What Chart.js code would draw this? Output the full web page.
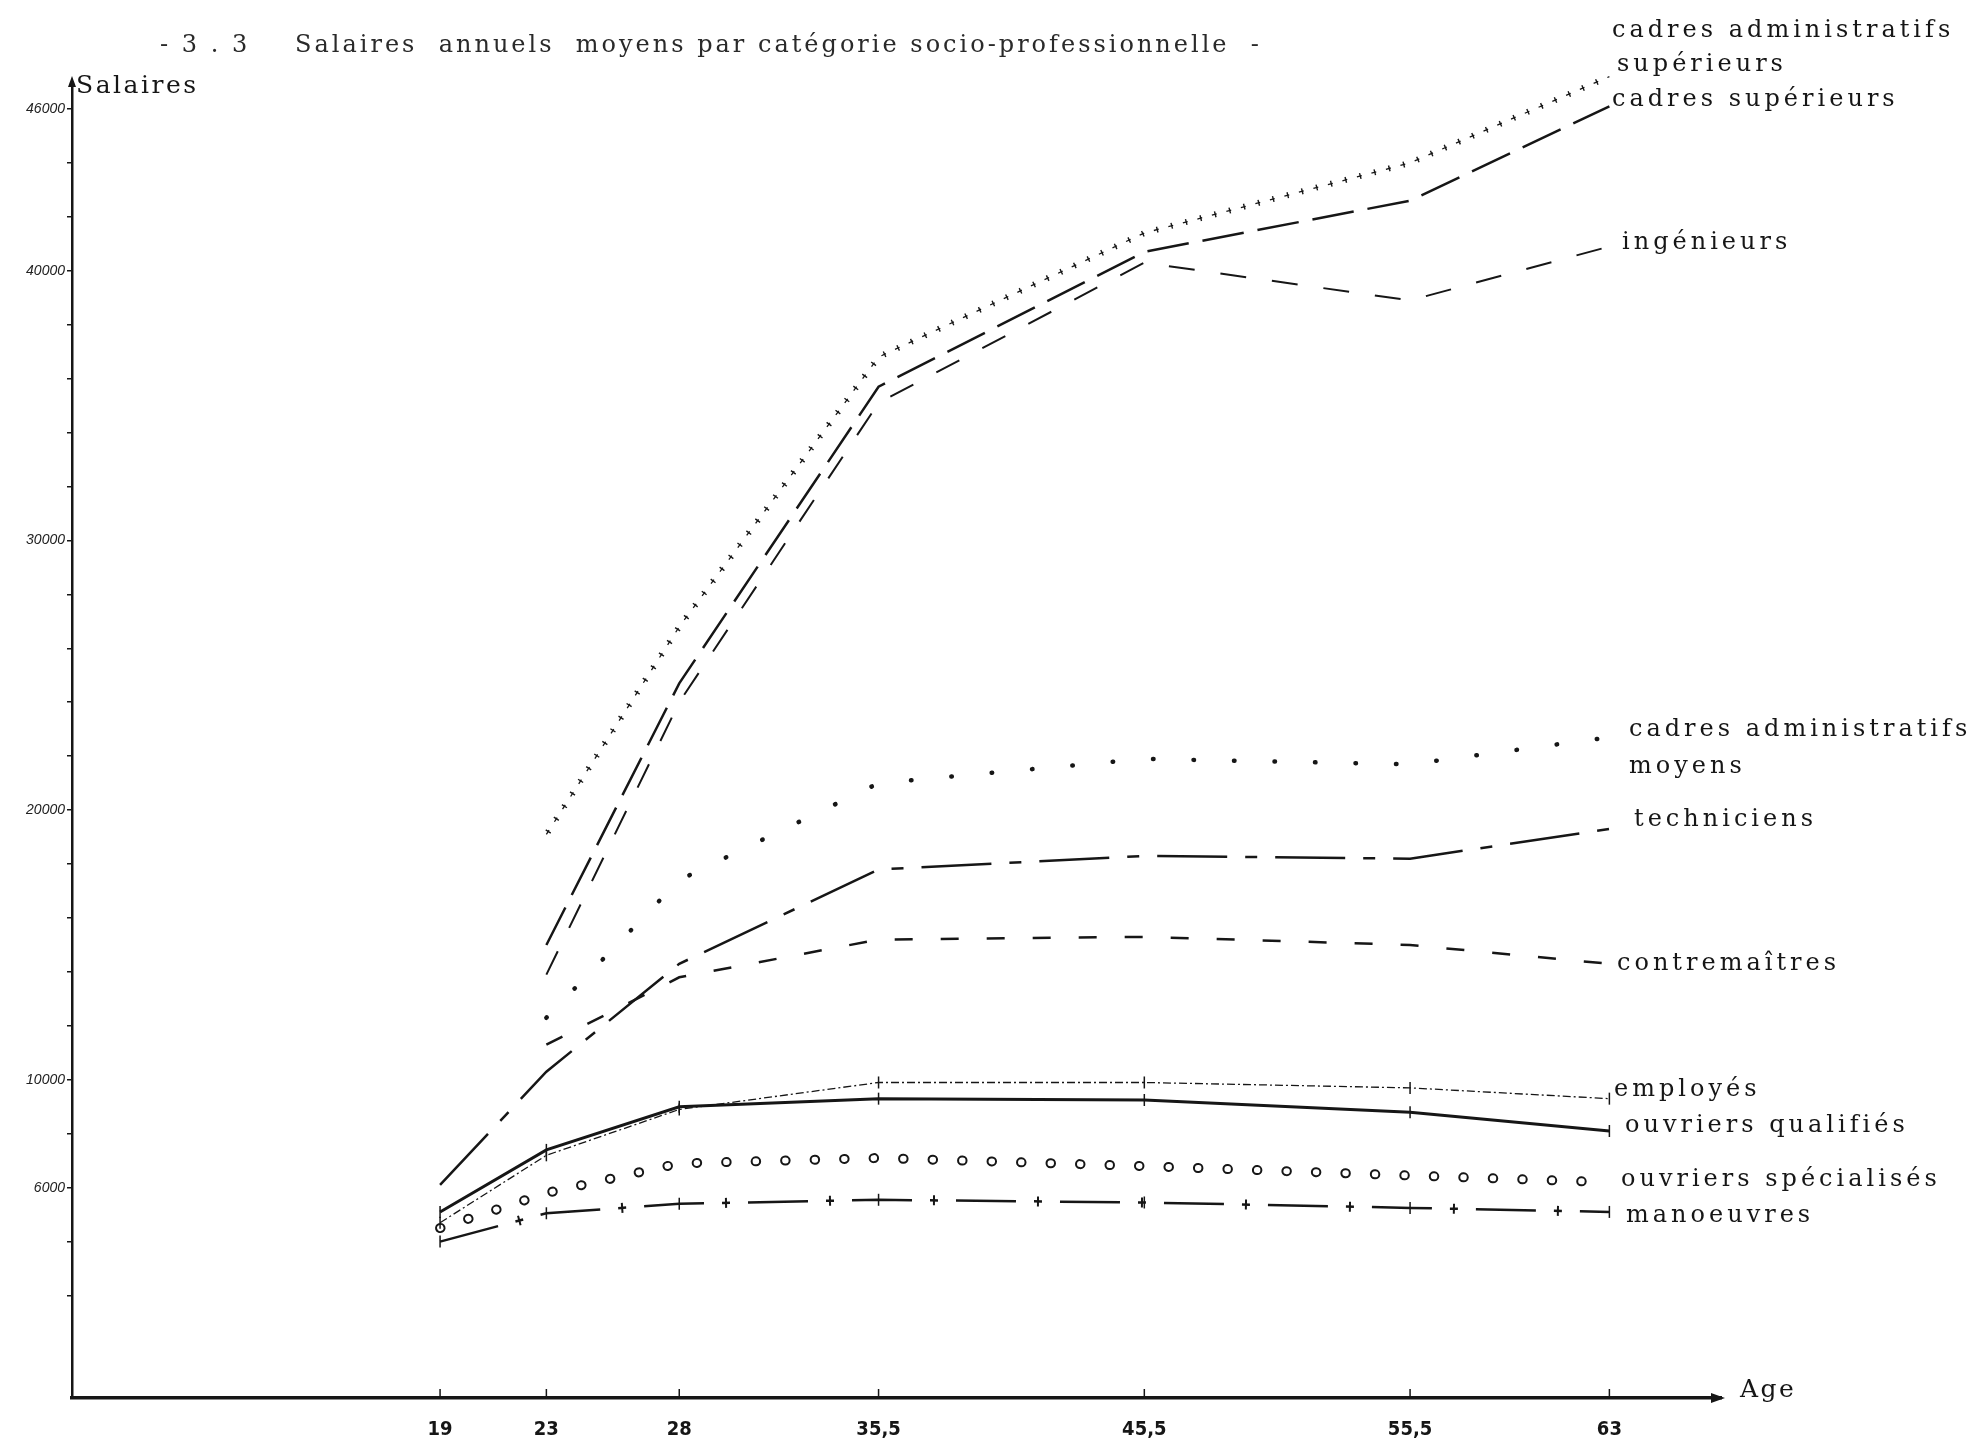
<!DOCTYPE html>
<html lang="fr">
<head>
<meta charset="utf-8">
<title>Salaires annuels moyens par catégorie socio-professionnelle</title>
<script src="https://cdn.jsdelivr.net/npm/chart.js@4.4.1/dist/chart.umd.min.js"></script>
<style>
  html, body { margin: 0; padding: 0; background: #fff; }
  #wrap { width: 1978px; height: 1447px; }
</style>
</head>
<body>
<div id="wrap"><canvas id="salChart" width="1978" height="1447"></canvas></div>
<script>
// abscisse : âges
const ages = [19, 23, 28, 35.5, 45.5, 55.5, 63];
const ageLabels = ['19', '23', '28', '35,5', '45,5', '55,5', '63'];

// ordonnée : graduations tous les 2000, chiffres seulement sur certaines
const salaryTicks = [2000, 4000, 6000, 8000, 10000, 12000, 14000, 16000, 18000, 20000, 22000,
  24000, 26000, 28000, 30000, 32000, 34000, 36000, 38000, 40000, 42000, 44000, 46000];
const salaryLabeled = [6000, 10000, 20000, 30000, 40000, 46000];

// salaires (null = pas de point)
const cadresAdminSup = [null, 19100, 26800, 36800, 41400, 44000, 47200];
const cadresSup      = [null, 15000, 24700, 35700, 40700, 42600, 46100];
const ingenieurs     = [null, 13900, 24000, 35100, 40300, 38900, 40900];
const cadresAdminMoy = [null, 12300, 17400, 21000, 21900, 21700, 22700];
const techniciens    = [6100, 10300, 14300, 17800, 18300, 18200, 19300];
const contremaitres  = [null, 11300, 13800, 15200, 15300, 15000, 14300];
const employes       = [4700, 7200, 8900, 9900, 9900, 9700, 9300];
const ouvriersQual   = [5100, 7400, 9000, 9300, 9250, 8800, 8100];
const ouvriersSpec   = [4500, 5800, 6900, 7100, 6800, 6450, 6200];
const manoeuvres     = [4000, 5050, 5400, 5550, 5450, 5250, 5100];

const ink = '#161616';

function pts(values) {
    return ages.map((a, i) => ({ x: a, y: values[i] })).filter(p => p.y !== null);
}

function serie(values, extra) {
    return Object.assign({
        data: pts(values),
        borderColor: ink,
        borderWidth: 2.5,
        pointRadius: 0,
        fill: false,
        tension: 0,
        clip: false
    }, extra);
}

// marques verticales aux sommets
const tickPoints = { pointStyle: 'line', rotation: 90, pointRadius: 6, pointBorderWidth: 1.5, pointBorderColor: ink };

const datasets = [
    // cadres administratifs supérieurs : petites croix
    serie(cadresAdminSup, { borderWidth: 1.3, borderDash: [5, 10] }),
    serie(cadresAdminSup, { borderWidth: 6, borderDash: [1.4, 13.6], borderDashOffset: 12.2 }),
    // cadres supérieurs : grands traits
    serie(cadresSup, { borderWidth: 2.5, borderDash: [42, 14] }),
    // ingénieurs : tirets
    serie(ingenieurs, { borderWidth: 2, borderDash: [26, 26] }),
    // cadres administratifs moyens : points
    serie(cadresAdminMoy, { borderWidth: 4.5, borderDash: [0.5, 40], borderCapStyle: 'round' }),
    // techniciens : trait mixte
    serie(techniciens, { borderWidth: 2.5, borderDash: [70, 18, 12, 18] }),
    // contremaîtres : tirets
    serie(contremaitres, { borderWidth: 2.5, borderDash: [18, 28] }),
    // employés : pointillé fin
    serie(employes, Object.assign({ borderWidth: 1.3, borderDash: [8, 3, 2, 3] }, tickPoints)),
    // ouvriers qualifiés : trait plein
    serie(ouvriersQual, Object.assign({ borderWidth: 3 }, tickPoints)),
    // ouvriers spécialisés : petits ronds (noir puis blanc par-dessus)
    serie(ouvriersSpec, { borderWidth: 10, borderDash: [0.5, 29], borderCapStyle: 'round', order: 2 }),
    serie(ouvriersSpec, { borderWidth: 6, borderDash: [0.5, 29], borderCapStyle: 'round', borderColor: '#fff', order: 1 }),
    // manoeuvres : traits et croix
    serie(manoeuvres, Object.assign({ borderWidth: 2.5, borderDash: [60, 18, 8, 18] }, tickPoints)),
    serie(manoeuvres, { borderWidth: 10, borderDash: [2, 102], borderDashOffset: 23 })
];

// étiquettes de droite
const seriesNames = [
    ['cadres administratifs', 1612, 31],
    ['supérieurs', 1617, 65],
    ['cadres supérieurs', 1612, 100],
    ['ingénieurs', 1622, 243],
    ['cadres administratifs', 1629, 730],
    ['moyens', 1629, 767],
    ['techniciens', 1634, 820],
    ['contremaîtres', 1617, 964],
    ['employés', 1614, 1090],
    ['ouvriers qualifiés', 1625, 1126],
    ['ouvriers spécialisés', 1621, 1180],
    ['manoeuvres', 1626, 1216]
];

const decor = {
    id: 'decor',
    afterDraw(chart) {
        const { ctx, chartArea: a, scales: { x } } = chart;
        ctx.save();
        ctx.strokeStyle = ink;
        ctx.fillStyle = ink;

        // graduations de l'axe des âges (vers le haut)
        ctx.lineWidth = 1.5;
        ages.forEach(v => {
            const px = x.getPixelForValue(v);
            ctx.beginPath();
            ctx.moveTo(px, a.bottom);
            ctx.lineTo(px, a.bottom - 9);
            ctx.stroke();
        });

        // flèches
        ctx.beginPath();
        ctx.moveTo(a.right + 4, a.bottom);
        ctx.lineTo(a.right - 10, a.bottom - 5);
        ctx.lineTo(a.right - 10, a.bottom + 5);
        ctx.closePath();
        ctx.fill();
        ctx.beginPath();
        ctx.moveTo(a.left, a.top - 6);
        ctx.lineTo(a.left - 4, a.top + 5);
        ctx.lineTo(a.left + 4, a.top + 5);
        ctx.closePath();
        ctx.fill();

        // titre
        ctx.textBaseline = 'middle';
        ctx.font = '24px "DejaVu Serif"';
        ctx.letterSpacing = '3px';
        ctx.fillStyle = '#2a2a2a';
        ctx.fillText('- 3 . 3', 160, 46);
        ctx.fillText('Salaires  annuels  moyens par catégorie socio-professionnelle  -', 295, 46);

        // titres des axes
        ctx.fillStyle = ink;
        ctx.font = '25px "DejaVu Serif"';
        ctx.letterSpacing = '2.5px';
        ctx.fillText('Salaires', 76, 86);
        ctx.fillText('Age', 1740, 1390);

        // noms des catégories
        ctx.font = '24px "DejaVu Serif"';
        ctx.letterSpacing = '4px';
        seriesNames.forEach(([txt, tx, ty]) => ctx.fillText(txt, tx, ty));
        ctx.restore();
    }
};

new Chart(document.getElementById('salChart').getContext('2d'), {
    type: 'line',
    data: { datasets: datasets },
    plugins: [decor],
    options: {
        responsive: false,
        devicePixelRatio: 1,
        animation: false,
        layout: { padding: { top: 82, right: 257, left: 0, bottom: 0 } },
        plugins: {
            legend: { display: false },
            tooltip: { enabled: false },
            title: { display: false }
        },
        scales: {
            x: {
                type: 'linear',
                min: 5.15,
                max: 67.2,
                afterBuildTicks: s => { s.ticks = ages.map(v => ({ value: v })); },
                afterFit: s => { s.height = 49; },
                ticks: {
                    autoSkip: false,
                    maxRotation: 0,
                    padding: 20,
                    color: ink,
                    font: { family: '"DejaVu Sans Condensed"', size: 20, weight: 'bold' },
                    callback: (v, i) => ageLabels[i]
                },
                grid: { drawOnChartArea: false, drawTicks: false },
                border: { color: ink, width: 3.5 }
            },
            y: {
                type: 'linear',
                min: -1800,
                max: 47000,
                afterBuildTicks: s => { s.ticks = salaryTicks.map(v => ({ value: v })); },
                afterFit: s => { s.width = 72; },
                ticks: {
                    autoSkip: false,
                    padding: 2,
                    color: '#222',
                    font: { family: '"Liberation Sans"', size: 14, style: 'italic' },
                    callback: v => salaryLabeled.includes(v) ? String(v) : ''
                },
                grid: { drawOnChartArea: false, tickLength: 5, color: ink, lineWidth: 1.5 },
                border: { color: ink, width: 2.5 }
            }
        }
    }
});
</script>
</body>
</html>
